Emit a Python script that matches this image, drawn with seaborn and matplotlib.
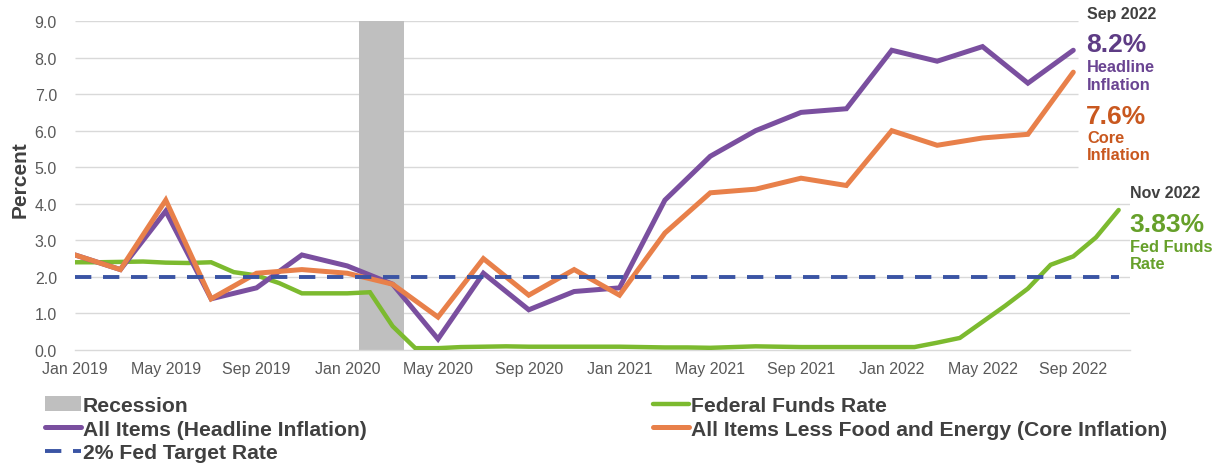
import matplotlib
matplotlib.use("Agg")
import matplotlib.pyplot as plt
import seaborn as sns
import pandas as pd
import numpy as np

# ---------------- data ----------------
months = pd.date_range("2019-01-01", "2022-11-01", freq="MS")
month_idx = list(range(len(months)))

# CPI series (reported every other month, Jan 2019 .. Sep 2022)
cpi_idx = month_idx[0:45:2]
headline = [2.6, 2.2, 3.8, 1.4, 1.7, 2.6, 2.3, 1.8, 0.3, 2.1, 1.1, 1.6,
            1.7, 4.1, 5.3, 6.0, 6.5, 6.6, 8.2, 7.9, 8.3, 7.3, 8.2]
core = [2.6, 2.2, 4.1, 1.4, 2.1, 2.2, 2.1, 1.8, 0.9, 2.5, 1.5, 2.2,
        1.5, 3.2, 4.3, 4.4, 4.7, 4.5, 6.0, 5.6, 5.8, 5.9, 7.6]

# Effective federal funds rate, monthly Jan 2019 .. Nov 2022
fed_funds = [2.40, 2.40, 2.41, 2.42, 2.39, 2.38, 2.40, 2.13, 2.04, 1.83, 1.55, 1.55,
             1.55, 1.58, 0.65, 0.05, 0.05, 0.08, 0.09, 0.10, 0.09, 0.09, 0.09, 0.09,
             0.09, 0.08, 0.07, 0.07, 0.06, 0.08, 0.10, 0.09, 0.08, 0.08, 0.08, 0.08,
             0.08, 0.08, 0.20, 0.33, 0.77, 1.21, 1.68, 2.33, 2.56, 3.08, 3.83]

fed_target = 2.0
recession_months = [13, 14]  # Feb 2020, Mar 2020

tick_idx = month_idx[0:45:4]
tick_labels = ["Jan 2019", "May 2019", "Sep 2019", "Jan 2020", "May 2020", "Sep 2020",
               "Jan 2021", "May 2021", "Sep 2021", "Jan 2022", "May 2022", "Sep 2022"]
y_ticks = [0, 1, 2, 3, 4, 5, 6, 7, 8, 9]

df_cpi = pd.DataFrame({"m": cpi_idx, "headline": headline, "core": core})
df_ff = pd.DataFrame({"m": month_idx, "ff": fed_funds})
df_target = pd.DataFrame({"m": month_idx, "t": [fed_target] * len(month_idx)})

# ---------------- style ----------------
sns.set_style("white")
plt.rcParams["font.family"] = ["Liberation Sans", "DejaVu Sans"]

PURPLE = "#7A4F9F"
ORANGE = "#E8804A"
GREEN = "#7CBA2F"
BLUE = "#3A54A4"
GRAY = "#BFBFBF"
GRID = "#D9D9D9"
TXT = "#404040"

W, H = 1218, 464
fig = plt.figure(figsize=(W / 100, H / 100), dpi=100)
ax = fig.add_axes([75 / W, 1 - 351 / H, (1130 - 75) / W, (351 - 22) / H])

# gridlines (upper ones stop short of the annotation block)
ax.hlines([1, 2, 3, 4], 0, 46.5, color=GRID, lw=1.0, zorder=0)
ax.hlines([5, 6, 7, 8, 9], 0, 44.2, color=GRID, lw=1.0, zorder=0)

# recession shading
ax.axvspan(recession_months[0] - 0.5, recession_months[-1] + 0.5, color=GRAY,
           lw=0, zorder=1, label="Recession")

sns.lineplot(data=df_ff, x="m", y="ff", ax=ax, color=GREEN, lw=3.2,
             label="Federal Funds Rate", zorder=3)
sns.lineplot(data=df_cpi, x="m", y="headline", ax=ax, color=PURPLE, lw=3.6,
             label="All Items (Headline Inflation)", zorder=4)
sns.lineplot(data=df_cpi, x="m", y="core", ax=ax, color=ORANGE, lw=3.6,
             label="All Items Less Food and Energy (Core Inflation)", zorder=5)
sns.lineplot(data=df_target, x="m", y="t", ax=ax, color=BLUE, lw=2.8,
             label="2% Fed Target Rate", zorder=6)
for ln in ax.lines:
    ln.set_solid_capstyle("round")
    ln.set_solid_joinstyle("miter")
ax.lines[-1].set_dashes([4.2, 3.0])
ax.lines[-1].set_dash_capstyle("butt")

ax.set_xlim(0, 46.5)
ax.set_ylim(0, 9)
ax.set_xticks(tick_idx)
ax.set_xticklabels(tick_labels)
ax.set_yticks(y_ticks)
ax.set_yticklabels([f"{v:.1f}" for v in y_ticks])
ax.set_xlabel("")
ax.set_ylabel("Percent", fontsize=15, fontweight="bold", color=TXT)
ax.yaxis.set_label_coords(-0.043, 0.52)

for s in ["top", "right", "left"]:
    ax.spines[s].set_visible(False)
ax.spines["bottom"].set_color(GRID)
ax.spines["bottom"].set_linewidth(1.0)
ax.tick_params(axis="x", length=5, width=1, color=GRID, labelsize=11.5,
               labelcolor="#595959", pad=3, direction="out")
ax.tick_params(axis="y", length=0, labelsize=11.5, labelcolor="#595959", pad=13)
ax.grid(False)

# legends
handles, labels = ax.get_legend_handles_labels()
if ax.get_legend():
    ax.get_legend().remove()
hmap = dict(zip(labels, handles))
leg_common = dict(frameon=False, borderpad=0, borderaxespad=0, handlelength=1.7,
                  handletextpad=0.1, labelspacing=0.22,
                  prop={"size": 15.2, "weight": "bold"}, labelcolor=TXT,
                  bbox_transform=fig.transFigure, loc="upper left")
l1_labels = ["Recession", "All Items (Headline Inflation)", "2% Fed Target Rate"]
l2_labels = ["Federal Funds Rate", "All Items Less Food and Energy (Core Inflation)"]
leg1 = ax.legend([hmap[k] for k in l1_labels], l1_labels,
                 bbox_to_anchor=(45 / W, 1 - 397 / H), **leg_common)
ax.add_artist(leg1)
leg2 = ax.legend([hmap[k] for k in l2_labels], l2_labels,
                 bbox_to_anchor=(653 / W, 1 - 397 / H), **leg_common)

# right-hand annotations
def ftext(x, y, s, size, color, weight="bold"):
    fig.text(x / W, 1 - y / H, s, fontsize=size, color=color, fontweight=weight,
             ha="left", va="center")

ftext(1087, 14, "Sep 2022", 11.5, TXT)
ftext(1086, 45, f"{headline[-1]:.1f}%", 19, "#5E3C85")
ftext(1087, 68, "Headline", 11.8, "#6A4492")
ftext(1087, 85, "Inflation", 11.8, "#6A4492")
ftext(1086, 117, f"{core[-1]:.1f}%", 19, "#C9581F")
ftext(1087, 139, "Core", 11.8, "#C9581F")
ftext(1087, 156, "Inflation", 11.8, "#C9581F")
ftext(1130, 194, "Nov 2022", 11.5, TXT)
ftext(1129, 225, f"{fed_funds[-1]:.2f}%", 19, "#66A02A")
ftext(1130, 248, "Fed Funds", 11.8, "#66A02A")
ftext(1130, 265, "Rate", 11.8, "#66A02A")

fig.savefig("out.png", dpi=100)
